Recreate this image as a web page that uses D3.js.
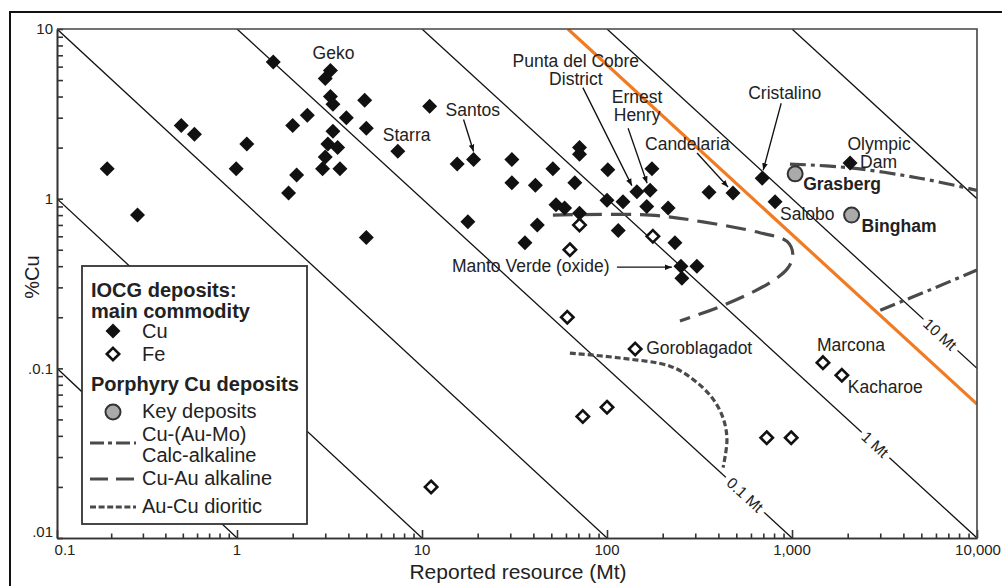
<!DOCTYPE html>
<html><head><meta charset="utf-8">
<script src="https://cdn.jsdelivr.net/npm/d3@7"></script>
<style>
body{margin:0;background:#fff}
svg{display:block}
text{font-family:"Liberation Sans",Arial,Helvetica,sans-serif;fill:#222}
</style>
</head><body><svg id="c" width="1002" height="586"></svg>
<script>
// ---------- DATA ----------
// IOCG deposits, main commodity Cu: [resource Mt, %Cu]
const cuDeposits = [
 [1.57,6.4],[0.49,2.7],[0.58,2.4],[1.13,2.1],[0.19,1.5],[0.99,1.5],[2.1,1.38],[1.9,1.08],[0.28,0.8],
 [2.0,2.7],[2.4,3.1],[3.2,5.7],[3.0,5.1],[3.2,4.0],[3.3,3.6],[4.9,3.8],[11,3.5],[3.9,3.0],[5.0,2.6],
 [3.3,2.5],[3.1,2.1],[3.5,2.0],[3.0,1.76],[2.9,1.5],[3.6,1.5],[7.4,1.9],[15.5,1.6],[19,1.7],[30.6,1.7],
 [71,2.0],[71,1.83],[51,1.5],[101,1.48],[175,1.5],[30.6,1.24],[41,1.2],[67,1.24],[145,1.1],[171,1.12],
 [356,1.09],[480,1.08],[100,0.98],[122,0.96],[53,0.92],[59,0.88],[71,0.82],[164,0.9],[214,0.88],
 [17.7,0.73],[42,0.70],[115,0.65],[36,0.55],[233,0.55],[251,0.40],[306,0.40],[254,0.34],[5.0,0.59],
 [690,1.32],[810,0.96],[2060,1.62]
];
// IOCG deposits, main commodity Fe
const feDeposits = [
 [71,0.70],[63,0.50],[177,0.60],[61,0.20],[142,0.13],[11.2,0.020],[74,0.052],[100,0.059],
 [730,0.039],[990,0.039],[1470,0.108],[1860,0.091]
];
// Porphyry Cu key deposits
const keyDeposits = [["Grasberg",1040,1.4],["Bingham",2100,0.80]];

// Porphyry fields (boundary traces)
const calcAlkUpper = [[975,1.60],[2060,1.52],[4900,1.32],[10000,1.12]];
const calcAlkLower = [[3000,0.22],[5570,0.29],[10000,0.38]];
const cuAuAlkaline = [[51,0.80],[171,0.80],[330,0.73],[670,0.63],[940,0.56],[1010,0.47],[950,0.39],[760,0.32],[445,0.24],[248,0.19]];
const auCuDioritic = [[63,0.123],[118,0.115],[219,0.103],[292,0.086],[370,0.067],[424,0.051],[445,0.038],[424,0.026]];

// Iso-contained-metal lines (Mt Cu)
const isoContained = [0.0001,0.001,0.01,0.1,1,10,100];
const isoLabels = [["0.1 Mt",0.1,557],["1 Mt",1,2810],["10 Mt",10,6310]];
const orangeContained = 6.15;

// Axis ticks
const xMajor = [0.1,1,10,100,1000,10000];
const xMajorLabels = ["0.1","1","10","100","1,000","10,000"];
const yMajor = [10,1,0.1,0.01];
const yMajorLabels = ["10","1",".0.1",".01"];
const minorMult = [2,3,4,5,6,7,8,9];

// Annotations: [text lines, target [x,y], text dx, first baseline dy, line step, anchor, bold, arrow [sx,sy,ex,ey] offsets or null]
const annotations = [
 [["Geko"],[3.2,5.7],3,-11,0,"middle",false,null],
 [["Starra"],[7.4,1.9],-15,-10,0,"start",false,null],
 [["Santos"],[19,1.7],-28,-44,0,"start",false,[-10,-40,0,-8]],
 [["Punta del Cobre","District"],[145,1.1],-61,-125,18,"middle",false,[-54,-104,-5,-6]],
 [["Ernest","Henry"],[171,1.12],-13,-87,18,"middle",false,[-22,-62,-3,-7]],
 [["Candelaria"],[480,1.08],-88,-43,0,"start",false,[-36,-40,-5,-6]],
 [["Cristalino"],[690,1.32],-14,-79,0,"start",false,[19,-75,1,-8]],
 [["Olympic"],[2060,1.62],29,-13,0,"middle",false,null],
 [["Dam"],[2060,1.62],10,5,0,"start",false,null],
 [["Grasberg"],[1040,1.4],8,16,0,"start",true,null],
 [["Salobo"],[810,0.96],5,18,0,"start",false,null],
 [["Bingham"],[2100,0.80],10,17,0,"start",true,null],
 [["Manto Verde (oxide)"],[251,0.40],-229,6,0,"start",false,[-64,1,-9,1]],
 [["Goroblagadot"],[142,0.13],11,5,0,"start",false,null],
 [["Marcona"],[1470,0.108],-6,-12,0,"start",false,null],
 [["Kacharoe"],[1860,0.091],6,18,0,"start",false,null]
];

// ---------- CHART ----------
const svg = d3.select("#c");
const x = d3.scaleLog().domain([0.1,1,10000]).range([57,237,977]);
const y = d3.scaleLog().domain([0.01,10]).range([538,29]);
const [x0,x1] = [x(0.1),x(10000)], [y0,y1] = [y(0.01),y(10)];

svg.append("defs").append("clipPath").attr("id","pa").append("rect")
  .attr("x",x0).attr("y",y1).attr("width",x1-x0).attr("height",y0-y1);
const defs = svg.select("defs");
defs.append("marker").attr("id","ah").attr("viewBox","0 0 10 10").attr("refX",10).attr("refY",5)
  .attr("markerWidth",7).attr("markerHeight",7).attr("markerUnits","userSpaceOnUse").attr("orient","auto")
  .append("path").attr("d","M0,1 L10,5 L0,9 Z").attr("fill","#111");

// outer frame
svg.append("path").attr("d",`M10,600 L10,12 L1010,12`).attr("fill","none").attr("stroke","#111").attr("stroke-width",2);

const plot = svg.append("g").attr("clip-path","url(#pa)");

// iso lines: tonnage * grade / 100 = contained
function isoEnds(c){
  const k = c*100; // x*y
  const xa = Math.max(0.1, k/10), xb = Math.min(10000, k/0.01);
  return [[xa,k/xa],[xb,k/xb]];
}
const lineGen = d3.line().x(d=>x(d[0])).y(d=>y(d[1]));
plot.selectAll(".iso").data(isoContained).join("path").attr("class","iso")
  .attr("d",c=>lineGen(isoEnds(c))).attr("fill","none").attr("stroke","#111").attr("stroke-width",1.3);
plot.append("path").attr("d",lineGen(isoEnds(orangeContained))).attr("fill","none")
  .attr("stroke","#f07b22").attr("stroke-width",3.2);

// fields
const curve = d3.line().x(d=>x(d[0])).y(d=>y(d[1])).curve(d3.curveCatmullRom.alpha(0.5));
const fieldStyle = {stroke:"#4a4a4a","stroke-width":3.2,fill:"none"};
function field(data,dash){
  const p = plot.append("path").attr("d",curve(data)).attr("stroke-dasharray",dash);
  Object.entries(fieldStyle).forEach(([k,v])=>p.attr(k,v));
}
field(calcAlkUpper,"16 5 4 5");
field(calcAlkLower,"16 5 4 5");
field(cuAuAlkaline,"20 9");
field(auCuDioritic,"6 3");

// iso labels
isoLabels.forEach(([t,c,xv])=>{
  const k=c*100, yv=k/xv;
  const ang = Math.atan2(y(k/(xv*2))-y(yv), x(xv*2)-x(xv))*180/Math.PI;
  svg.append("text").attr("transform",`translate(${x(xv)},${y(yv)}) rotate(${ang})`)
    .attr("text-anchor","middle").attr("dy","0.35em").attr("font-size",15.5)
    .attr("stroke","#fff").attr("stroke-width",10).attr("stroke-linejoin","round").attr("paint-order","stroke").text(t);
});

// points
const dFill = "M0,-7.5 L7.5,0 L0,7.5 L-7.5,0Z";
const dHollow = "M0,-6.2 L6.2,0 L0,6.2 L-6.2,0Z";
svg.selectAll(".cu").data(cuDeposits).join("path").attr("class","cu")
  .attr("transform",d=>`translate(${x(d[0])},${y(d[1])})`).attr("d",dFill).attr("fill","#111");
svg.selectAll(".fe").data(feDeposits).join("path").attr("class","fe")
  .attr("transform",d=>`translate(${x(d[0])},${y(d[1])})`).attr("d",dHollow)
  .attr("fill","#fff").attr("stroke","#111").attr("stroke-width",2.6);
svg.selectAll(".key").data(keyDeposits).join("circle").attr("class","key")
  .attr("cx",d=>x(d[1])).attr("cy",d=>y(d[2])).attr("r",7.5)
  .attr("fill","#aaa").attr("stroke","#333").attr("stroke-width",2);

// annotations
annotations.forEach(([lines,tg,dx,dy,step,anchor,bold,arr])=>{
  const px=x(tg[0]), py=y(tg[1]);
  lines.forEach((t,i)=>{
    svg.append("text").attr("x",px+dx).attr("y",py+dy+i*step).attr("text-anchor",anchor)
      .attr("font-size",17.5).attr("font-weight",bold?"bold":"normal").text(t);
  });
  if(arr){
    svg.append("line").attr("x1",px+arr[0]).attr("y1",py+arr[1]).attr("x2",px+arr[2]).attr("y2",py+arr[3])
      .attr("stroke","#111").attr("stroke-width",1.3).attr("marker-end","url(#ah)");
  }
});

// legend
const lg = svg.append("g");
lg.append("rect").attr("x",82).attr("y",266).attr("width",225).attr("height",258)
  .attr("fill","#fff").attr("stroke","#333").attr("stroke-width",1.8);
const lt = (tx,ty,t,b)=>lg.append("text").attr("x",tx).attr("y",ty).attr("font-size",20)
  .attr("font-weight",b?"bold":"normal").text(t);
lt(91,297,"IOCG deposits:",true);
lt(91,318,"main commodity",true);
lg.append("path").attr("transform","translate(113,331)").attr("d",dFill).attr("fill","#111");
lt(142,338,"Cu");
lg.append("path").attr("transform","translate(113,354)").attr("d",dHollow).attr("fill","#fff").attr("stroke","#111").attr("stroke-width",2.6);
lt(142,361,"Fe");
lt(91,391,"Porphyry Cu deposits",true);
lg.append("circle").attr("cx",113).attr("cy",412).attr("r",7.5).attr("fill","#aaa").attr("stroke","#333").attr("stroke-width",2);
lt(142,418,"Key deposits");
lt(142,441,"Cu-(Au-Mo)");
lt(142,462,"Calc-alkaline");
lt(142,485,"Cu-Au alkaline");
lt(142,513,"Au-Cu dioritic");
const ll = (yy,dash)=>lg.append("line").attr("x1",90).attr("x2",136).attr("y1",yy).attr("y2",yy)
  .attr("stroke","#4a4a4a").attr("stroke-width",3.2).attr("stroke-dasharray",dash);
ll(443,"14 4 4 4");
ll(479,"18 8");
ll(507,"6 2.6");

// axes
const minorX = xMajor.slice(0,-1).flatMap(v=>minorMult.map(m=>v*m));
const minorY = yMajor.slice(1).flatMap(v=>minorMult.map(m=>v*m));
const ax = svg.append("g").attr("transform",`translate(0,${y0})`);
ax.call(d3.axisBottom(x).tickValues(minorX).tickSize(-4.5).tickSizeOuter(0).tickFormat(""));
ax.append("g").call(d3.axisBottom(x).tickValues(xMajor).tickSize(-8).tickSizeOuter(0).tickFormat(""));
ax.selectAll("path,line").attr("stroke","#333").attr("stroke-width",1.6);
const ay = svg.append("g").attr("transform",`translate(${x0},0)`);
ay.call(d3.axisLeft(y).tickValues(minorY).tickSize(-6).tickSizeOuter(0).tickFormat(""));
ay.append("g").call(d3.axisLeft(y).tickValues(yMajor).tickSize(-6).tickSizeOuter(0).tickFormat(""));
ay.selectAll("path,line").attr("stroke","#333").attr("stroke-width",1.6);
// top & right frame
svg.append("path").attr("d",`M${x0},${y1} L${x1},${y1} L${x1},${y0}`).attr("fill","none").attr("stroke","#444").attr("stroke-width",1.6);

xMajor.forEach((v,i)=>{
  const off = i===0?8:(i===xMajor.length-1?1:0);
  svg.append("text").attr("x",x(v)+off).attr("y",y0+17).attr("text-anchor","middle").attr("font-size",15).text(xMajorLabels[i]);
});
yMajor.forEach((v,i)=>{
  const off = i===yMajor.length-1?-6:0;
  svg.append("text").attr("x",x0-4).attr("y",y(v)+off).attr("dy","0.35em").attr("text-anchor","end").attr("font-size",15).text(yMajorLabels[i]);
});
svg.append("text").attr("x",(x0+x1)/2+1).attr("y",579).attr("text-anchor","middle").attr("font-size",21).text("Reported resource (Mt)");
svg.append("text").attr("transform",`translate(39,277) rotate(-90)`).attr("text-anchor","middle").attr("font-size",20).text("%Cu");
</script>
</body></html>
